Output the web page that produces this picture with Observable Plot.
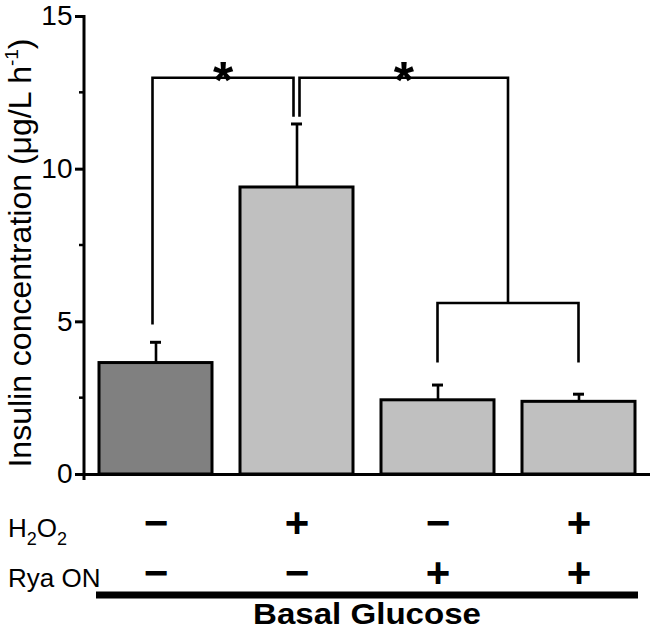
<!DOCTYPE html>
<html><head><meta charset="utf-8">
<script src="https://cdn.jsdelivr.net/npm/d3@7"></script>
<script src="https://cdn.jsdelivr.net/npm/@observablehq/plot@0.6"></script>
<style>
body{margin:0;background:#fff}
#chart svg [aria-label^="y-axis"] line, #chart svg [aria-label^="y-axis"] path{stroke-width:3px}
</style>
</head><body><div id="chart"></div>
<script>
// ---- data ----
const groups = ["ctrl", "H2O2", "RyaON", "H2O2+RyaON"];
const means = [3.65, 9.4, 2.43, 2.38];
const errUp = [0.68, 2.08, 0.5, 0.25];
const fills = ["#808080", "#c0c0c0", "#c0c0c0", "#c0c0c0"];
const h2o2Row = ["−", "+", "−", "+"];
const ryaRow = ["−", "−", "+", "+"];
const yMajor = [0, 5, 10, 15];
const yMinor = [2.5, 7.5, 12.5];
// significance brackets: [group position (fractional = between groups), value]
const bracketA = [[0, 4.9], [0, 12.98], [1, 12.98], [1, 11.7]];
const bracketB = [[1, 11.7], [1, 12.98], [2.5, 12.98], [2.5, 5.6]];
const bracketC = [[2, 3.65], [2, 5.6], [3, 5.6], [3, 3.65]];
const starPos = [0.5, 1.75];
const starVal = [12.98, 12.98];
const yLabel = "Insulin concentration (μg/L h";
const yLabelSup = "-1";
const groupLabel = "Basal Glucose";

const rows = groups.map((g, i) => ({g, v: means[i], top: means[i] + errUp[i], f: fills[i], a: h2o2Row[i], b: ryaRow[i]}));
const FONT = "Liberation Sans, Arial, sans-serif";

function overlay(index, scales, values, dims) {
  const x = scales.x, y = scales.y;
  const bw = typeof x.bandwidth === "function" ? x.bandwidth() : (x.bandwidth || 0);
  const cx = p => {
    const lo = Math.floor(p), hi = Math.ceil(p);
    const a = x(groups[lo]) + bw / 2, b = x(groups[hi]) + bw / 2;
    return a + (b - a) * (p - lo);
  };
  const g = d3.create("svg:g").attr("text-anchor", "start");
  const line = d3.line();
  const shift = [[-3, -3, -3, -3], [3, 3, 0, 0], [0, 0, 0, 0]];
  [bracketA, bracketB, bracketC].forEach((br, k) => {
    g.append("path")
      .attr("d", line(br.map(([p, v], j) => [cx(p) + shift[k][j], y(v)])))
      .attr("fill", "none").attr("stroke", "#000").attr("stroke-width", 2.6)
      .attr("stroke-linejoin", "miter").attr("stroke-linecap", "butt");
  });
  starPos.forEach((p, i) => {
    const xs = i === 0 ? (cx(0) - 3 + cx(1) - 3) / 2 : (cx(1) + 3 + cx(2.5)) / 2;
    g.append("text").attr("x", xs).attr("y", y(starVal[i]) + 20)
      .attr("text-anchor", "middle").attr("font-size", 52).attr("font-weight", "bold")
      .attr("font-family", FONT).text("*");
  });
  // y axis line and minor ticks
  const x0 = dims.marginLeft;
  g.append("line").attr("x1", x0).attr("x2", x0).attr("y1", y(15) - 1).attr("y2", y(0) + 6)
    .attr("stroke", "#000").attr("stroke-width", 3);
  yMinor.forEach(v => g.append("line").attr("x1", x0 - 5).attr("x2", x0).attr("y1", y(v)).attr("y2", y(v))
    .attr("stroke", "#000").attr("stroke-width", 2.5));
  // y label
  const yl = g.append("text")
    .attr("transform", `translate(31,${(y(0) + y(15)) / 2 + 8}) rotate(-90)`)
    .attr("text-anchor", "middle").attr("font-size", 32)
    .attr("font-family", FONT);
  yl.append("tspan").text(yLabel);
  yl.append("tspan").attr("font-size", 19).attr("dy", -13).text(yLabelSup);
  yl.append("tspan").attr("dy", 13).text(")");
  // row labels
  const rl = g.append("text").attr("x", 8).attr("y", y(0) + 63).attr("font-size", 26)
    .attr("font-family", FONT).attr("text-anchor", "start");
  rl.append("tspan").text("H");
  rl.append("tspan").attr("font-size", 18).attr("dy", 8).text("2");
  rl.append("tspan").attr("dy", -8).text("O");
  rl.append("tspan").attr("font-size", 18).attr("dy", 8).text("2");
  g.append("text").attr("x", 8).attr("y", y(0) + 113).attr("font-size", 26).attr("text-anchor", "start")
    .attr("font-family", FONT).text("Rya ON");
  // group line + label
  const xr = cx(3) + bw / 2 + 3;
  g.append("line").attr("x1", 96).attr("x2", xr).attr("y1", y(0) + 121).attr("y2", y(0) + 121)
    .attr("stroke", "#000").attr("stroke-width", 7);
  g.append("text").attr("x", (96 + xr) / 2).attr("y", y(0) + 150)
    .attr("text-anchor", "middle").attr("font-size", 30).attr("font-weight", "bold")
    .attr("textLength", 228).attr("lengthAdjust", "spacingAndGlyphs")
    .attr("font-family", FONT).text(groupLabel);
  return g.node();
}

const chart = Plot.plot({
  width: 651, height: 632,
  marginLeft: 84, marginTop: 16, marginRight: 1, marginBottom: 158,
  style: {fontFamily: FONT, fontSize: "28px", color: "#000", background: "#fff", overflow: "visible"},
  x: {domain: groups, paddingInner: 0.2, paddingOuter: 0.107, axis: null},
  y: {domain: [0, 15], ticks: yMajor, tickSize: 9, tickPadding: 3, label: null, tickFormat: d => String(d)},
  color: {type: "identity"},
  marks: [
    Plot.barY(rows, {x: "g", y: "v", fill: "f", stroke: "#000", strokeWidth: 3}),
    Plot.ruleX(rows, {x: "g", y1: "v", y2: "top", stroke: "#000", strokeWidth: 2.6}),
    Plot.tickY(rows, {x: "g", y: "top", stroke: "#000", strokeWidth: 3, insetLeft: 51, insetRight: 51}),
    Plot.ruleY([0], {stroke: "#000", strokeWidth: 3}),
    Plot.text(rows, {x: "g", text: "a", frameAnchor: "bottom", dy: 62, fontSize: 42, fontWeight: "bold"}),
    Plot.text(rows, {x: "g", text: "b", frameAnchor: "bottom", dy: 112, fontSize: 42, fontWeight: "bold"}),
    overlay
  ]
});
document.getElementById("chart").appendChild(chart);
</script>
</body></html>
